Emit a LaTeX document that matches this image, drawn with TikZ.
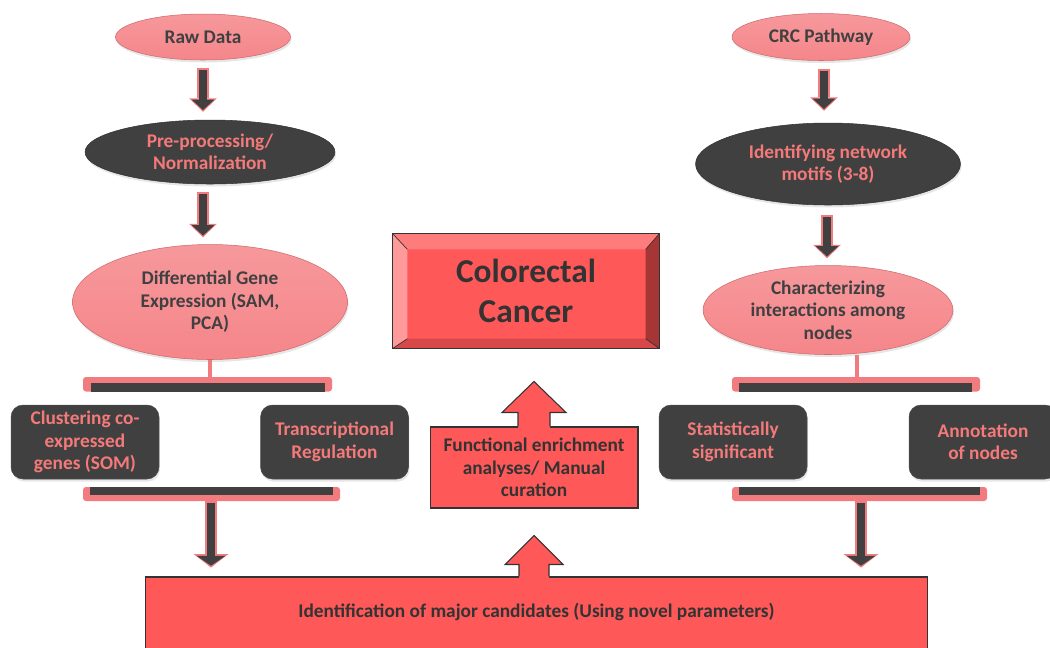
\documentclass[tikz,border=0pt]{standalone}
\usepackage{fontspec}
\setmainfont{Carlito}
\usetikzlibrary{shapes.geometric,arrows.meta,calc,shadows}

\definecolor{rosefill}{HTML}{F5868A}
\definecolor{roseline}{HTML}{F27B7F}
\definecolor{rosetext}{HTML}{F47A7A}
\definecolor{slate}{HTML}{404040}
\definecolor{redfill}{HTML}{FF5858}
\definecolor{bevtop}{HTML}{FF7C7C}
\definecolor{bevleft}{HTML}{FF9A9A}
\definecolor{bevright}{HTML}{A63535}
\definecolor{bevbottom}{HTML}{D94848}

\begin{document}
\begin{tikzpicture}[x=0.02cm, y=-0.02cm,
  every node/.style={font=\bfseries\fontsize{11}{12.8}\selectfont, align=center, inner sep=0pt},
  pinkoval/.style={ellipse, draw=roseline!85!black, line width=0.3pt, top color=rosefill!85!white, bottom color=rosefill, text=slate,
    drop shadow={shadow xshift=0.02cm, shadow yshift=-0.05cm, opacity=0.2}},
  darkoval/.style={ellipse, draw=black!80, line width=0.3pt, fill=slate, text=rosetext,
    drop shadow={shadow xshift=0.02cm, shadow yshift=-0.05cm, opacity=0.2}},
  darkbox/.style={rectangle, rounded corners=0.24cm, draw=black!70, line width=0.3pt, fill=slate, text=rosetext,
    minimum width=2.96cm, minimum height=1.48cm, drop shadow={shadow xshift=0.02cm, shadow yshift=-0.05cm, opacity=0.2}},
  redbox/.style={rectangle, draw=black!80, line width=0.6pt, fill=redfill, text=black!80},
  flow/.style={draw=slate, line width=0.15cm, -{Triangle[width=0.46cm, length=0.21cm, line width=0pt]},
    shorten <=0.04cm, shorten >=0.035cm,
    preaction={draw=roseline, line width=0.24cm, -{Triangle[width=0.56cm, length=0.27cm, line width=0pt]}, shorten <=0pt, shorten >=0pt}},
  longflow/.style={flow, -{Triangle[width=0.58cm, length=0.2cm, line width=0pt]},
    preaction={draw=roseline, line width=0.24cm, -{Triangle[width=0.7cm, length=0.27cm, line width=0pt]}, shorten <=0pt, shorten >=0pt}}
]
\useasboundingbox (0,0) rectangle (1050,647);

% left column
\node[pinkoval, minimum width=3.5cm, minimum height=0.92cm] (raw) at (203,37) {Raw Data};
\node[darkoval, minimum width=5cm, minimum height=1.28cm] (norm) at (210,152) {Pre-processing/\\Normalization};
\node[pinkoval, minimum width=5.5cm, minimum height=2.3cm] (dge) at (210,302) {Differential Gene\\Expression (SAM,\\PCA)};
\node[darkbox] (som) at (85,442) {Clustering co-\\expressed\\genes (SOM)};
\node[darkbox] (treg) at (334.5,442) {Transcriptional\\Regulation};

% right column
\node[pinkoval, minimum width=3.56cm, minimum height=0.94cm] (crcpath) at (821,37) {CRC Pathway};
\node[darkoval, minimum width=5.3cm, minimum height=1.64cm] (motif) at (828,164) {Identifying network\\motifs (3-8)};
\node[pinkoval, minimum width=5cm, minimum height=1.78cm] (inter) at (828,310) {Characterizing\\interactions among\\nodes};
\node[darkbox] (stat) at (733,442) {Statistically\\significant};
\node[darkbox] (annot) at (983,442) {Annotation\\of nodes};

% centre
\node[redbox, minimum width=5.32cm, minimum height=2.28cm, line width=0.8pt,
  font=\bfseries\fontsize{19}{22.7}\selectfont] (crc) at (526,291) {Colorectal\\Cancer};
\node[redbox, minimum width=4.16cm, minimum height=1.62cm] (func) at (534,467.5) {Functional enrichment\\analyses/ Manual\\curation};
\node[redbox, minimum width=15.66cm, text height=0.8cm, text depth=0.86cm] (ident) at (536.5,618.5)
  {Identification of major candidates (Using novel parameters)};

% bevel of the title box
\coordinate (i1) at ($(crc.north west)+(15,16)$);
\coordinate (i2) at ($(crc.north east)+(-14,16)$);
\coordinate (i3) at ($(crc.south east)+(-14,-10)$);
\coordinate (i4) at ($(crc.south west)+(15,-10)$);
\fill[bevtop] (crc.north west) -- (crc.north east) -- (i2) -- (i1) -- cycle;
\fill[bevleft] (crc.north west) -- (i1) -- (i4) -- (crc.south west) -- cycle;
\fill[bevright] (crc.north east) -- (crc.south east) -- (i3) -- (i2) -- cycle;
\fill[bevbottom] (crc.south west) -- (i4) -- (i3) -- (crc.south east) -- cycle;
\draw[black!80, line width=0.4pt] (crc.north west) -- (i1) (crc.north east) -- (i2)
  (crc.south east) -- (i3) (crc.south west) -- (i4);
\draw[black!80, line width=0.8pt] (crc.north west) rectangle (crc.south east);

% vertical flows
\draw[flow] ($(raw.south)+(0,8)$) -- ($(raw.south |- norm.north)+(0,-8)$);
\draw[flow] ($(norm.south)+(-7,8)$) -- ($(norm.south |- dge.north)+(-7,-7)$);
\draw[flow] ($(crcpath.south)+(3,8)$) -- ($(crcpath.south |- motif.north)+(3,-12)$);
\draw[flow] ($(motif.south)+(-1,10)$) -- ($(motif.south |- inter.north)+(-1,-7)$);

% brackets, left
\coordinate (ltop) at (209,377);
\coordinate (lbot) at (211,501);
\draw[roseline, line width=0.08cm] (dge.south) -- (dge.south |- ltop);
\fill[roseline, rounded corners=0.06cm] (83,391.5) -- (83,377) -- (332,377) -- (332,391.5) -- cycle;
\fill[slate] (91,382.5) rectangle (325,391.5);
\fill[roseline, rounded corners=0.06cm] (83,487) -- (83,501) -- (340,501) -- (340,487) -- cycle;
\fill[slate] (90,487) rectangle (333,494.5);
\draw[longflow] (lbot) -- ($(lbot |- ident.north)+(0,-9)$);

% brackets, right
\coordinate (rtop) at (857,377);
\coordinate (rbot) at (861,501);
\draw[roseline, line width=0.08cm] (inter.south -| rtop) -- (rtop);
\fill[roseline, rounded corners=0.06cm] (732,391.5) -- (732,377) -- (980,377) -- (980,391.5) -- cycle;
\fill[slate] (739,382.5) rectangle (972,391.5);
\fill[roseline, rounded corners=0.06cm] (732,487) -- (732,501) -- (987,501) -- (987,487) -- cycle;
\fill[slate] (739,487) rectangle (980,494.5);
\draw[longflow] (rbot) -- ($(rbot |- ident.north)+(0,-9)$);

% callout arrows into the title box
\fill[redfill] ($(func.north)+(-16,1.5)$) -- ++(0,-15.5) -- ++(-16,0) -- ($(func.north)+(0,-45)$)
  -- ($(func.north)+(32,-14)$) -- ++(-16,0) -- ++(0,15.5) -- cycle;
\draw[black!80, line width=0.6pt] ($(func.north)+(-16,0)$) -- ++(0,-14) -- ++(-16,0) -- ($(func.north)+(0,-45)$)
  -- ($(func.north)+(32,-14)$) -- ++(-16,0) -- ++(0,14);
\coordinate (up) at (ident.north -| func.north);
\fill[redfill] ($(up)+(-15,1.5)$) -- ++(0,-13.5) -- ++(-14,0) -- ($(up)+(0,-41)$)
  -- ($(up)+(29,-12)$) -- ++(-14,0) -- ++(0,13.5) -- cycle;
\draw[black!80, line width=0.6pt] ($(up)+(-15,0)$) -- ++(0,-12) -- ++(-14,0) -- ($(up)+(0,-41)$)
  -- ($(up)+(29,-12)$) -- ++(-14,0) -- ++(0,12);

\end{tikzpicture}
\end{document}
